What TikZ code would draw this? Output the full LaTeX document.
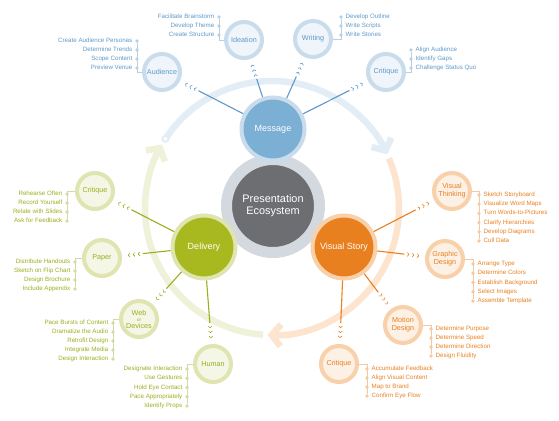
\documentclass[tikz,border=0pt]{standalone}
\usepackage{fontspec}
\setmainfont{Liberation Sans}
\usepackage{xcolor}
\usepackage{tikz}
\usetikzlibrary{arrows.meta}
\usetikzlibrary{decorations.markings}

\definecolor{bdark}{HTML}{5E98C9}
\definecolor{bmain}{HTML}{7BAFD4}
\definecolor{bring}{HTML}{C9DCEC}
\definecolor{bpale}{HTML}{EFF5FA}
\definecolor{bdot}{HTML}{B8D0E5}
\definecolor{bcyc}{HTML}{E3EDF5}
\definecolor{gdark}{HTML}{9CAD1E}
\definecolor{gmain}{HTML}{A8B920}
\definecolor{gring}{HTML}{DFE4B0}
\definecolor{gpale}{HTML}{F5F7E6}
\definecolor{gdot}{HTML}{D4DBA2}
\definecolor{gcyc}{HTML}{EFF1D9}
\definecolor{odark}{HTML}{E8801E}
\definecolor{omain}{HTML}{E9801F}
\definecolor{oring}{HTML}{F8D0A9}
\definecolor{opale}{HTML}{FDF0E4}
\definecolor{odot}{HTML}{F6C8A0}
\definecolor{ocyc}{HTML}{FDE4CF}
\definecolor{ecofill}{HTML}{6D6E72}
\definecolor{ecoring}{HTML}{D3D9DF}

\begin{document}
\begin{tikzpicture}[x=1pt, y=-1pt,
  hub/.style={circle, inner sep=0pt, minimum size=63pt, line width=4pt, text=white, font=\fontsize{9}{10}\selectfont},
  sat/.style={circle, inner sep=0pt, minimum size=36pt, line width=4pt, align=center, font=\fontsize{7.2}{8}\selectfont},
  bsat/.style={sat, fill=bpale, draw=bring, text=bdark},
  gsat/.style={sat, fill=gpale, draw=gring, text=gdark},
  osat/.style={sat, fill=opale, draw=oring, text=odark},
  item/.style={inner sep=0pt, text height=4.4pt, text depth=1.3pt, font=\fontsize{6.2}{7}\selectfont},
  dot/.style={circle, inner sep=0pt, minimum size=3.6pt},
  bracket/.style={line width=0.8pt},
  feed/.style={line width=1.1pt, shorten >=21pt, postaction={decorate, decoration={markings,
      mark=at position -16pt with {\arrow{Straight Barb[length=1.6pt,width=3.8pt,line width=0.6pt]}},
      mark=at position -11pt with {\arrow{Straight Barb[length=1.6pt,width=3.8pt,line width=0.6pt]}},
      mark=at position -6pt with {\arrow{Straight Barb[length=1.6pt,width=3.8pt,line width=0.6pt]}}}}},
  loopband/.style={line width=6.5pt, -{Straight Barb[length=9pt,width=22pt,sharp]}}]

 \useasboundingbox (0,0) rectangle (559,420);
 \coordinate (mid) at (272,208);

 %cycle
 \draw[loopband, bcyc] (mid) ++(-147:127) arc (-147:-25:127);
 \draw[loopband, ocyc] (mid) ++(-23:127) arc (-23:92:127);
 \draw[loopband, gcyc] (mid) ++(94:127) arc (94:210:127);
 \draw[bcyc, line width=2pt, fill=white] (mid) ++(-147:127) circle (3);

 %hubs
 \node[circle, inner sep=0pt, minimum size=93pt, fill=ecofill, draw=ecoring, line width=11pt,
       text=white, align=center, font=\fontsize{10.9}{12}\selectfont] (eco) at (273,206) {Presentation\\Ecosystem};
 \node[hub, fill=bmain, draw=bring] (msg) at (273,129) {Message};
 \node[hub, fill=gmain, draw=gring] (dlv) at (204,247) {Delivery};
 \node[hub, fill=omain, draw=oring] (vis) at (344,247) {Visual Story};

 %satellites
 \node[bsat] (aud) at (162,72) {Audience};
 \node[bsat] (ide) at (244,40) {Ideation};
 \node[bsat] (wri) at (313,39) {Writing};
 \node[bsat] (crb) at (386,72) {Critique};
 \node[gsat] (crg) at (95,191) {Critique};
 \node[gsat] (pap) at (102,258) {Paper};
 \node[gsat] (web) at (139,319) {Web\\[-1.5pt]{\fontsize{4.5}{5}\selectfont or}\\[-1.5pt]Devices};
 \node[gsat] (hum) at (213,364) {Human};
 \node[osat] (vth) at (452,191) {Visual\\Thinking};
 \node[osat] (gds) at (445,259) {Graphic\\Design};
 \node[osat] (mds) at (403,325) {Motion\\Design};
 \node[osat] (cro) at (339,364) {Critique};

 %feeds
 \foreach \s in {aud, ide, wri, crb} \draw[feed, bdark] (msg) -- (\s);
 \foreach \s in {crg, pap, web, hum} \draw[feed, gdark] (dlv) -- (\s);
 \foreach \s in {vth, gds, mds, cro} \draw[feed, odark] (vis) -- (\s);

 %message lists
 \foreach \i/\txt in {0/Create Audience Personas, 1/Determine Trends, 2/Scope Content, 3/Preview Venue} {
   \node[dot, fill=bdot] (aud-d\i) at (137, 41+9*\i) {};
   \node[item, text=bdark, anchor=east] (aud-t\i) at (132.5, 41+9*\i) {\txt};
 }
 \draw[bracket, bdot] (aud) -| (aud-d0);
 \foreach \i/\txt in {0/Facilitate Brainstorm, 1/Develop Theme, 2/Create Structure} {
   \node[dot, fill=bdot] (ide-d\i) at (219, 17+9*\i) {};
   \node[item, text=bdark, anchor=east] (ide-t\i) at (214.5, 17+9*\i) {\txt};
 }
 \draw[bracket, bdot] (ide) -| (ide-d0);
 \foreach \i/\txt in {0/Develop Outline, 1/Write Scripts, 2/Write Stories} {
   \node[dot, fill=bdot] (wri-d\i) at (341, 17+9*\i) {};
   \node[item, text=bdark, anchor=west] (wri-t\i) at (345.5, 17+9*\i) {\txt};
 }
 \draw[bracket, bdot] (wri) -| (wri-d0);
 \foreach \i/\txt in {0/Align Audience, 1/Identify Gaps, 2/Challenge Status Quo} {
   \node[dot, fill=bdot] (crb-d\i) at (411, 50+9*\i) {};
   \node[item, text=bdark, anchor=west] (crb-t\i) at (415.5, 50+9*\i) {\txt};
 }
 \draw[bracket, bdot] (crb) -| (crb-d0);

 %delivery lists
 \foreach \i/\txt in {0/Rehearse Often, 1/Record Yourself, 2/Relate with Slides, 3/Ask for Feedback} {
   \node[dot, fill=gdot] (crg-d\i) at (67, 194+9*\i) {};
   \node[item, text=gdark, anchor=east] (crg-t\i) at (62.5, 194+9*\i) {\txt};
 }
 \draw[bracket, gdot] (crg) -| (crg-d3);
 \foreach \i/\txt in {0/Distribute Handouts, 1/Sketch on Flip Chart, 2/Design Brochure, 3/Include Appendix} {
   \node[dot, fill=gdot] (pap-d\i) at (75, 262+9*\i) {};
   \node[item, text=gdark, anchor=east] (pap-t\i) at (70.5, 262+9*\i) {\txt};
 }
 \draw[bracket, gdot] (pap) -| (pap-d3);
 \foreach \i/\txt in {0/Pace Bursts of Content, 1/Dramatize the Audio, 2/Retrofit Design, 3/Integrate Media, 4/Design Interaction} {
   \node[dot, fill=gdot] (web-d\i) at (113, 323+9*\i) {};
   \node[item, text=gdark, anchor=east] (web-t\i) at (108.5, 323+9*\i) {\txt};
 }
 \draw[bracket, gdot] (web) -| (web-d4);
 \foreach \i/\txt in {0/Designate Interaction, 1/Use Gestures, 2/Hold Eye Contact, 3/Pace Appropriately, 4/Identify Props} {
   \node[dot, fill=gdot] (hum-d\i) at (187, 369+9.25*\i) {};
   \node[item, text=gdark, anchor=east] (hum-t\i) at (182.5, 369+9.25*\i) {\txt};
 }
 \draw[bracket, gdot] (hum) -| (hum-d4);

 %visual story lists
 \foreach \i/\txt in {0/Sketch Storyboard, 1/Visualize Word Maps, 2/Turn Words-to-Pictures, 3/Clarify Hierarchies, 4/Develop Diagrams, 5/Cull Data} {
   \node[dot, fill=odot] (vth-d\i) at (479, 195+9.2*\i) {};
   \node[item, text=odark, anchor=west] (vth-t\i) at (483.5, 195+9.2*\i) {\txt};
 }
 \draw[bracket, odot] (vth) -| (vth-d5);
 \foreach \i/\txt in {0/Arrange Type, 1/Determine Colors, 2/Establish Background, 3/Select Images, 4/Assemble Template} {
   \node[dot, fill=odot] (gds-d\i) at (473, 264+9.25*\i) {};
   \node[item, text=odark, anchor=west] (gds-t\i) at (477.5, 264+9.25*\i) {\txt};
 }
 \draw[bracket, odot] (gds) -| (gds-d4);
 \foreach \i/\txt in {0/Determine Purpose, 1/Determine Speed, 2/Determine Direction, 3/Design Fluidity} {
   \node[dot, fill=odot] (mds-d\i) at (431, 329+9*\i) {};
   \node[item, text=odark, anchor=west] (mds-t\i) at (435.5, 329+9*\i) {\txt};
 }
 \draw[bracket, odot] (mds) -| (mds-d3);
 \foreach \i/\txt in {0/Accumulate Feedback, 1/Align Visual Content, 2/Map to Brand, 3/Confirm Eye Flow} {
   \node[dot, fill=odot] (cro-d\i) at (367, 369+9*\i) {};
   \node[item, text=odark, anchor=west] (cro-t\i) at (371.5, 369+9*\i) {\txt};
 }
 \draw[bracket, odot] (cro) -| (cro-d3);

\end{tikzpicture}
\end{document}
